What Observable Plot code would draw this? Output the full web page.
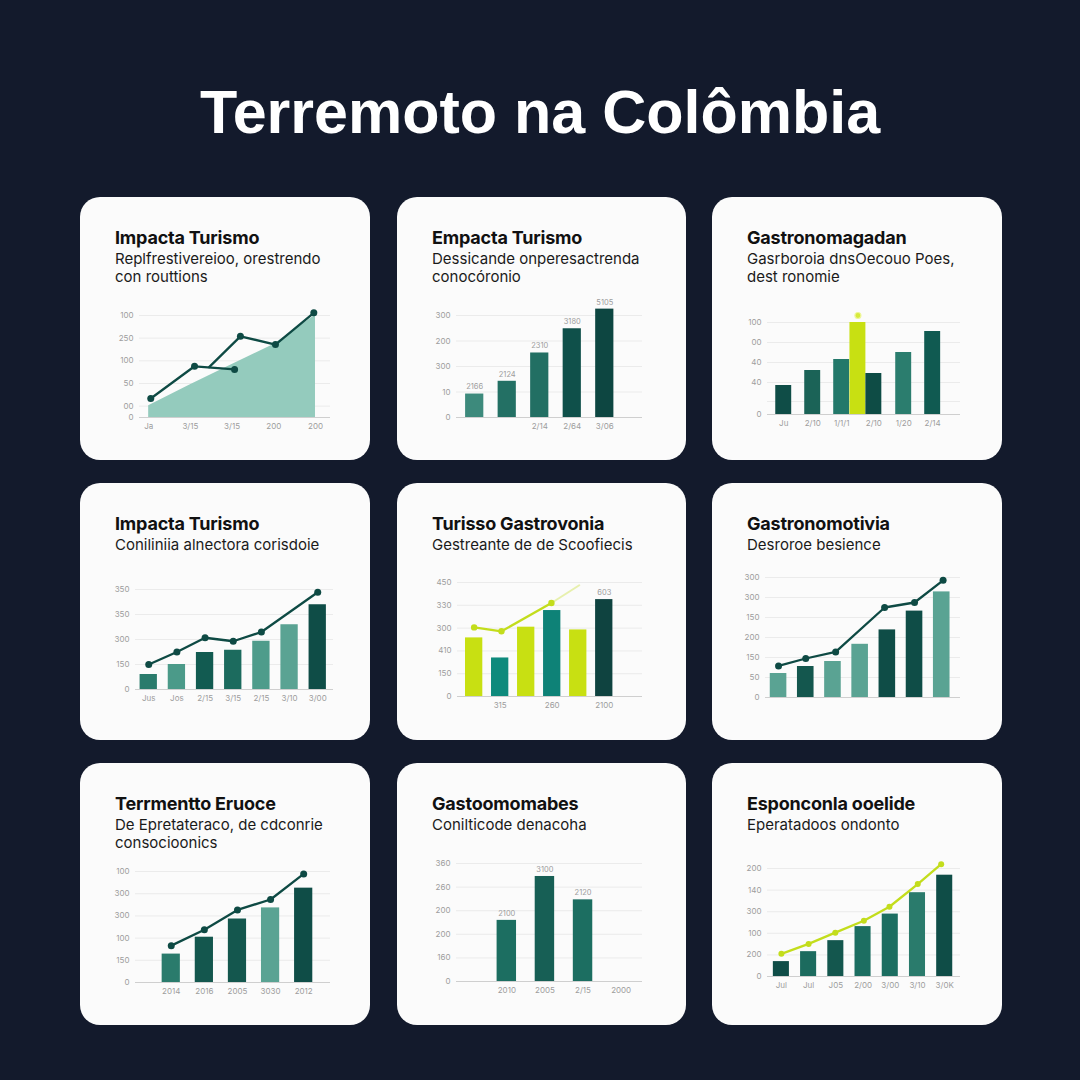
<!DOCTYPE html>
<html><head><meta charset="utf-8">
<script src="https://cdn.jsdelivr.net/npm/d3@7"></script>
<script src="https://cdn.jsdelivr.net/npm/@observablehq/plot@0.6"></script>
<style>
body{margin:0;width:1080px;height:1080px;background:#131a2c;position:relative;overflow:hidden;font-family:Inter,"Noto Sans",sans-serif}
h1{position:absolute;left:0;width:1080px;top:82px;margin:0;text-align:center;font:700 61px/61px "Liberation Sans",Arial,sans-serif;color:#fff}
.card{position:absolute;background:#fbfbfb;border-radius:20px;box-sizing:border-box;padding:31px 0 0 35px}
.card .t{font:700 18px/20px Inter,sans-serif;color:#111;letter-spacing:-0.2px}
.card .s{font:400 15px/18px Inter,sans-serif;color:#1a1a1a;margin-top:2px}
.chart{position:absolute}
</style></head><body>
<h1>Terremoto na Colômbia</h1>
<script>
// ---------- texts ----------
const cardTitles = ["Impacta Turismo","Empacta Turismo","Gastronomagadan","Impacta Turismo","Turisso Gastrovonia","Gastronomotivia","Terrmentto Eruoce","Gastoomomabes","Esponconla ooelide"];
const cardSubtitles = [
  ["Replfrestivereioo, orestrendo","con routtions"],
  ["Dessicande onperesactrenda","conocóronio"],
  ["Gasrboroia dnsOecouo Poes,","dest ronomie"],
  ["Coniliniia alnectora corisdoie"],
  ["Gestreante de de Scoofiecis"],
  ["Desroroe besience"],
  ["De Epretateraco, de cdconrie","consocioonics"],
  ["Conilticode denacoha"],
  ["Eperatadoos ondonto"]
];

// ---------- data ----------
const c1YTicks = [0,25,75,125,175,225];
const c1YLabels = ["0","00","50","100","250","100"];
const c1XLabels = ["Ja","3/15","3/15","200","200"];
const c1Area = [26,72,117,161,226];
const c1LineAx = [0.05,1.1,2.06];
const c1LineAy = [42,113,106];
const c1LineBx = [1.45,2.2,3.04,3.96];
const c1LineBy = [111,179,161,231];

const c2YTicks = [0,100,200,300,400];
const c2YLabels = ["0","10","300","200","300"];
const c2Values = [92,142,253,348,425];
const c2ValueLabels = ["2166","2124","2310","3180","5105"];
const c2XLabels = ["","","2/14","2/64","3/06"];

const c3YTicks = [0,13,32,52,72,92];
const c3YLabels = ["0","","40","40","00","100"];
const c3X = [0,1,2,2.56,3.11,4.14,5.14];
const c3Values = [29,44,55,92,41,62,83];
const c3XTicks = [0,1,2,3.11,4.14,5.14];
const c3XLabels = ["Ju","2/10","1/1/1","2/10","1/20","2/14"];
const c3MarkerX = [2.56];
const c3MarkerY = [99];

const c4YTicks = [0,100,200,300,400];
const c4YLabels = ["0","150","300","350","350"];
const c4Values = [60,100,148,157,193,259,339];
const c4LineX = [0,1,2,3,4,6];
const c4LineY = [100,150,207,193,230,389];
const c4XLabels = ["Jus","Jos","2/15","3/15","2/15","3/10","3/00"];

const c5YTicks = [0,100,200,300,400,500];
const c5YLabels = ["0","150","410","300","330","450"];
const c5Values = [257,169,304,377,292,425];
const c5LineX = [0,1.05,2.97];
const c5LineY = [303,286,410];
const c5FadeX = [2.97,4.04];
const c5FadeY = [410,488];
const c5XTicks = [1,3,5];
const c5XLabels = ["315","260","2100"];
const c5ValueLabels = ["","","","","","603"];

const c6YTicks = [0,50,100,150,200,250,300];
const c6YLabels = ["0","50","150","200","150","300","300"];
const c6Values = [60,77.5,90,133,169,216,264];
const c6LineX = [0,1,2.1,3.9,5,6.05];
const c6LineY = [79,97.5,114,225,237.5,293];

const c7YTicks = [0,100,200,300,400,500];
const c7YLabels = ["0","150","100","300","300","100"];
const c7Values = [128,204,286,336,425];
const c7LineY = [166,238,327,374,489];
const c7XLabels = ["2014","2016","2005","3030","2012"];

const c8YTicks = [0,100,200,300,400,500];
const c8YLabels = ["0","160","200","200","260","360"];
const c8Values = [259,445,346];
const c8ValueLabels = ["2100","3100","2120"];
const c8XLabels = ["2010","2005","2/15","2000"];

const c9YTicks = [0,100,200,300,400,500];
const c9YLabels = ["0","200","100","300","140","200"];
const c9Values = [69,115,166,231,289,388,469];
const c9LineX = [0,1,1.98,3.03,3.97,5.01,5.87];
const c9LineY = [105,151,203,258,323,428,520];
const c9XLabels = ["Jul","Jul","J05","2/00","3/00","3/10","3/0K"];

// ---------- styles ----------
const LIME = "#c8e012", LIMELINE = "#c3dd1c", DARK = "#0e4a44", AREA = "#94cbbd";
const c2Colors = ["#3d8a7c","#237064","#226f63","#0f504a","#0d4641"];
const c3Colors = ["#0f4d47","#1b6357","#23786a",LIME,"#0e4c45","#2b7d6e","#105a51"];
const c4Colors = ["#2a7b6c","#4b9a89","#125b51","#1c6b5e","#4e9c8b","#5aa393","#0f4d47"];
const c5Colors = [LIME,"#0e8a7c",LIME,"#0e8277",LIME,"#0f4340"];
const c6Colors = ["#5aa393","#14574e","#5aa393","#5aa393","#0f4d47","#0f4d47","#5aa393"];
const c7Colors = ["#2a7b6c","#14574e","#14574e","#5aa393","#0f4d47"];
const c8Colors = ["#1c6e61","#175f55","#1c6e61"];
const c9Colors = ["#0f4d47","#1c6b5e","#14574e","#1c6e61","#1c6e61","#2a7b6c","#0f4d47"];

// ---------- layout ----------
const cardLeft = [80,397,712];
const cardWidth = [290,289,290];
const cardTop = [197,483,763];
const cardHeight = [263,257,262];
const frames = [ // fl, fr, ft, fb, xdomain, ymax
  [139,330,315,416.7,[-0.22,4.36],225],
  [456,642,315,417,[-0.56,5.16],400],
  [767,960,321.7,413.3,[-0.56,6.1],92],
  [135,333,589,689.3,[-0.47,6.56],400],
  [457,642,581.7,696,[-0.64,6.47],500],
  [765,960,576.7,696.7,[-0.48,6.69],300],
  [135,330,871,981.7,[-1.08,4.81],500],
  [456,642,863.3,981.7,[-1.32,3.56],500],
  [767,960,868.3,976.7,[-0.51,6.58],500]
];
const barW = [0,0.56,0.55,0.615,0.665,0.61,0.55,0.51,0.59];

// ---------- cards ----------
for (let k = 0; k < 9; k++) {
  const r = Math.floor(k/3), c = k%3;
  const d = document.createElement("div");
  d.className = "card";
  d.style.left = cardLeft[c]+"px"; d.style.top = cardTop[r]+"px";
  d.style.width = cardWidth[c]+"px"; d.style.height = cardHeight[r]+"px";
  const t = document.createElement("div"); t.className = "t"; t.textContent = cardTitles[k]; d.appendChild(t);
  const s = document.createElement("div"); s.className = "s";
  cardSubtitles[k].forEach((line,i) => { if (i) s.appendChild(document.createElement("br")); s.appendChild(document.createTextNode(line)); });
  d.appendChild(s);
  document.body.appendChild(d);
}

// ---------- helpers ----------
const idx = n => d3.range(n);
const TICK = "#9d9d9d";
function axesMarks(yTicks, yLabels) {
  return [
    Plot.ruleY(yTicks.slice(1), {y: d => d, stroke: "#ebebeb"}),
    Plot.text(yTicks, {y: d => d, text: (d,i) => yLabels[i], frameAnchor: "left", dx: -6, textAnchor: "end", fill: TICK, fontSize: 8}),
    Plot.ruleY([0], {y: d => d, stroke: "#cfcfcf"})
  ];
}
function xLabelMarks(xs, labels) {
  return Plot.text(xs, {x: d => d, text: (d,i) => labels[i], frameAnchor: "bottom", dy: 11, fill: TICK, fontSize: 8});
}
function barMarks(xs, values, colors, w) {
  return Plot.rect(values, {x1: (d,i) => xs[i]-w/2, x2: (d,i) => xs[i]+w/2, y1: 0, y2: d => d, fill: (d,i) => colors[i]});
}
function valueLabels(xs, values, labels) {
  return Plot.text(values, {x: (d,i) => xs[i], y: d => d, text: (d,i) => labels[i], dy: -7, fill: TICK, fontSize: 7.5});
}
function pts(xs, ys) { return xs.map((x,i) => ({x, y: ys[i]})); }
function lineMarks(xs, ys, color, r) {
  const p = pts(xs, ys);
  return [Plot.line(p, {x: "x", y: "y", stroke: color, strokeWidth: 2.3}), Plot.dot(p, {x: "x", y: "y", fill: color, r: r || 3.5})];
}
function draw(k, marks) {
  const [fl, fr, ft, fb, xd, ymax] = frames[k];
  const c = k%3, cl = cardLeft[c], cw = cardWidth[c];
  const mt = 22, mb = 24;
  const svg = Plot.plot({
    width: cw, height: Math.round(fb - ft) + mt + mb,
    marginLeft: fl - cl, marginRight: cl + cw - fr, marginTop: mt, marginBottom: mb,
    x: {domain: xd, axis: null},
    y: {domain: [0, ymax], axis: null},
    color: {type: "identity"},
    style: {background: "transparent", overflow: "visible", fontFamily: "Inter, sans-serif"},
    marks
  });
  const div = document.createElement("div");
  div.className = "chart";
  div.style.left = cl + "px"; div.style.top = (ft - mt) + "px";
  div.appendChild(svg);
  document.body.appendChild(div);
}

// ---------- charts ----------
// 1
draw(0, [
  ...axesMarks(c1YTicks, c1YLabels),
  Plot.areaY(c1Area, {x: (d,i) => i, y1: 0, y2: d => d, fill: AREA}),
  Plot.line(pts(c1LineAx, c1LineAy), {x: "x", y: "y", stroke: DARK, strokeWidth: 2.3}),
  Plot.line(pts(c1LineBx, c1LineBy), {x: "x", y: "y", stroke: DARK, strokeWidth: 2.3}),
  Plot.dot(pts(c1LineAx, c1LineAy), {x: "x", y: "y", fill: DARK, r: 3.5}),
  Plot.dot(pts(c1LineBx.slice(1), c1LineBy.slice(1)), {x: "x", y: "y", fill: DARK, r: 3.5}),
  xLabelMarks(idx(5), c1XLabels)
]);
// 2
draw(1, [
  ...axesMarks(c2YTicks, c2YLabels),
  barMarks(idx(5), c2Values, c2Colors, barW[1]),
  valueLabels(idx(5), c2Values, c2ValueLabels),
  xLabelMarks(idx(5), c2XLabels)
]);
// 3
draw(2, [
  ...axesMarks(c3YTicks, c3YLabels),
  barMarks(c3X, c3Values, c3Colors, barW[2]),
  Plot.dot(pts(c3MarkerX, c3MarkerY), {x: "x", y: "y", fill: "#d6ea3c", stroke: "#eef69a", strokeWidth: 1.2, r: 3}),
  xLabelMarks(c3XTicks, c3XLabels)
]);
// 4
draw(3, [
  ...axesMarks(c4YTicks, c4YLabels),
  barMarks(idx(7), c4Values, c4Colors, barW[3]),
  ...lineMarks(c4LineX, c4LineY, DARK),
  xLabelMarks(idx(7), c4XLabels)
]);
// 5
draw(4, [
  ...axesMarks(c5YTicks, c5YLabels),
  barMarks(idx(6), c5Values, c5Colors, barW[4]),
  Plot.line(pts(c5FadeX, c5FadeY), {x: "x", y: "y", stroke: LIMELINE, strokeOpacity: 0.35, strokeWidth: 2}),
  ...lineMarks(c5LineX, c5LineY, LIMELINE, 3.2),
  valueLabels(idx(6), c5Values, c5ValueLabels),
  xLabelMarks(c5XTicks, c5XLabels)
]);
// 6
draw(5, [
  ...axesMarks(c6YTicks, c6YLabels),
  barMarks(idx(7), c6Values, c6Colors, barW[5]),
  ...lineMarks(c6LineX, c6LineY, DARK)
]);
// 7
draw(6, [
  ...axesMarks(c7YTicks, c7YLabels),
  barMarks(idx(5), c7Values, c7Colors, barW[6]),
  ...lineMarks(idx(5), c7LineY, DARK),
  xLabelMarks(idx(5), c7XLabels)
]);
// 8
draw(7, [
  ...axesMarks(c8YTicks, c8YLabels),
  barMarks(idx(3), c8Values, c8Colors, barW[7]),
  valueLabels(idx(3), c8Values, c8ValueLabels),
  xLabelMarks(idx(4), c8XLabels)
]);
// 9
draw(8, [
  ...axesMarks(c9YTicks, c9YLabels),
  barMarks(idx(7), c9Values, c9Colors, barW[8]),
  ...lineMarks(c9LineX, c9LineY, LIMELINE, 3),
  xLabelMarks(idx(7), c9XLabels)
]);
</script>
</body></html>
